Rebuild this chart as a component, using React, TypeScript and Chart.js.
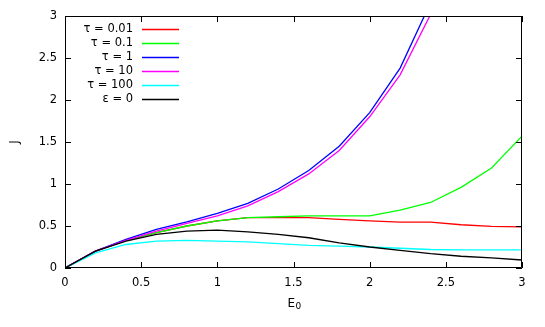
import React, { useEffect, useRef } from "react";
import { Chart, registerables } from "chart.js";

Chart.register(...registerables);

const E0 = [0, 0.2, 0.4, 0.6, 0.8, 1.0, 1.2, 1.4, 1.6, 1.8, 2.0, 2.2, 2.4, 2.6, 2.8, 3.0];
const tau001 = [0, 0.2, 0.33, 0.42, 0.5, 0.56, 0.6, 0.6, 0.6, 0.58, 0.56, 0.545, 0.545, 0.515, 0.495, 0.49];
const tau01 = [0, 0.2, 0.33, 0.42, 0.5, 0.56, 0.6, 0.61, 0.62, 0.62, 0.62, 0.69, 0.78, 0.96, 1.19, 1.57];
const tau1 = [0, 0.2, 0.34, 0.46, 0.55, 0.65, 0.77, 0.94, 1.16, 1.45, 1.85, 2.38, 3.16, 4.2, 5.5, 7.0];
const tau10 = [0, 0.2, 0.33, 0.44, 0.53, 0.62, 0.74, 0.91, 1.12, 1.4, 1.8, 2.3, 3.02, 4.0, 5.2, 6.6];
const tau100 = [0, 0.18, 0.28, 0.32, 0.33, 0.32, 0.31, 0.29, 0.27, 0.26, 0.25, 0.235, 0.22, 0.215, 0.215, 0.215];
const eps0 = [0, 0.2, 0.32, 0.4, 0.44, 0.45, 0.43, 0.4, 0.36, 0.3, 0.25, 0.21, 0.17, 0.14, 0.12, 0.095];

const seriesLabels = ["τ = 0.01", "τ = 0.1", "τ = 1", "τ = 10", "τ = 100", "ε = 0"];
const seriesValues = [tau001, tau01, tau1, tau10, tau100, eps0];
const seriesColors = ["#ff0000", "#00ff00", "#0000ff", "#ff00ff", "#00ffff", "#000000"];

const xTicks = [0, 0.5, 1, 1.5, 2, 2.5, 3];
const yTicks = [0, 0.5, 1, 1.5, 2, 2.5, 3];

const FONT = "'DejaVu Sans', sans-serif";

const framePlugin = {
  id: "frame",
  afterDraw(chart: any) {
    const { ctx, chartArea } = chart;
    const { left, right, top, bottom } = chartArea;
    const xs = chart.scales.x;
    const ys = chart.scales.y;
    ctx.save();
    ctx.strokeStyle = "#000";
    ctx.lineWidth = 1;
    ctx.beginPath();
    ctx.rect(left + 0.5, top + 0.5, right - left - 1, bottom - top - 1);
    ctx.stroke();
    const tl = 6;
    ctx.beginPath();
    xTicks.forEach((v) => {
      const px = Math.round(xs.getPixelForValue(v)) + 0.5;
      ctx.moveTo(px, bottom);
      ctx.lineTo(px, bottom - tl);
      ctx.moveTo(px, top);
      ctx.lineTo(px, top + tl);
    });
    yTicks.forEach((v) => {
      const py = Math.round(ys.getPixelForValue(v)) + 0.5;
      ctx.moveTo(left, py);
      ctx.lineTo(left + tl, py);
      ctx.moveTo(right, py);
      ctx.lineTo(right - tl, py);
    });
    ctx.stroke();

    // legend
    ctx.font = `11.5px ${FONT}`;
    ctx.textAlign = "right";
    ctx.textBaseline = "middle";
    seriesLabels.forEach((lab, i) => {
      const y = top + 13 + 14 * i;
      ctx.fillStyle = "#000";
      ctx.fillText(lab, left + 68, y);
      ctx.strokeStyle = seriesColors[i];
      ctx.lineWidth = 1.3;
      ctx.beginPath();
      ctx.moveTo(left + 77, Math.round(y) + 0.5);
      ctx.lineTo(left + 114, Math.round(y) + 0.5);
      ctx.stroke();
    });

    // axis titles
    ctx.fillStyle = "#000";
    ctx.textAlign = "center";
    ctx.font = `12px ${FONT}`;
    ctx.save();
    ctx.translate(15, (top + bottom) / 2);
    ctx.rotate(-Math.PI / 2);
    ctx.fillText("J", 0, 0);
    ctx.restore();
    const cx = (left + right) / 2 - 2;
    ctx.textAlign = "left";
    ctx.fillText("E", cx - 4, 304);
    ctx.font = `9px ${FONT}`;
    ctx.fillText("0", cx + 4, 307);
    ctx.restore();
  },
};

const fmt = (v: any) => `${Number(v)}`;

export default function App() {
  const ref = useRef<HTMLCanvasElement>(null);
  useEffect(() => {
    if (!ref.current) return;
    const chart = new Chart(ref.current, {
      type: "line",
      data: {
        datasets: seriesLabels.map((label, i) => ({
          label,
          data: E0.map((x, j) => ({ x, y: seriesValues[i][j] })),
          borderColor: seriesColors[i],
          backgroundColor: seriesColors[i],
          borderWidth: 1.3,
          pointRadius: 0,
          tension: 0,
          fill: false,
          order: seriesLabels.length - i,
        })),
      },
      options: {
        animation: false,
        responsive: false,
        devicePixelRatio: 1,
        layout: { padding: { top: 16, right: 23, left: 0, bottom: 0 } },
        plugins: { legend: { display: false }, tooltip: { enabled: false } },
        scales: {
          x: {
            type: "linear",
            min: 0,
            max: 3,
            border: { display: false },
            grid: { display: true, drawOnChartArea: false, drawTicks: false },
            ticks: {
              stepSize: 0.5,
              padding: 8,
              color: "#000",
              font: { family: FONT, size: 11.5 },
              maxRotation: 0,
              callback: fmt,
            },
            afterFit: (s: any) => {
              s.height = 59;
            },
          },
          y: {
            type: "linear",
            min: 0,
            max: 3,
            border: { display: false },
            grid: { display: true, drawOnChartArea: false, drawTicks: false },
            ticks: {
              stepSize: 0.5,
              padding: 8,
              color: "#000",
              font: { family: FONT, size: 11.5 },
              callback: fmt,
            },
            afterFit: (s: any) => {
              s.width = 65;
            },
          },
        },
      },
      plugins: [framePlugin],
    });
    return () => chart.destroy();
  }, []);
  return (
    <div style={{ position: "fixed", left: 0, top: 0, width: 545, height: 327, background: "#fff" }}>
      <canvas ref={ref} width={545} height={327} style={{ width: 545, height: 327 }} />
    </div>
  );
}
